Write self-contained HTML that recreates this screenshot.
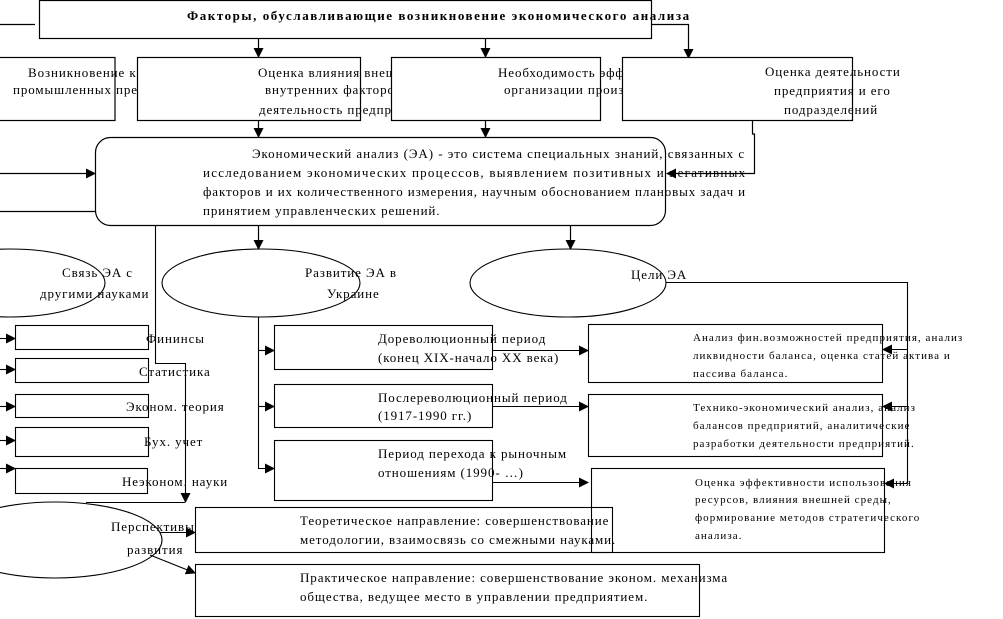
<!DOCTYPE html>
<html><head><meta charset="utf-8"><style>
html,body{margin:0;padding:0;background:#fff;width:1003px;height:619px;overflow:hidden}
svg text{font-family:"Liberation Serif","DejaVu Serif",serif;font-size:13px;fill:#000;letter-spacing:0.9px}
.s text{font-size:11px;letter-spacing:1.05px}
</style></head><body>
<svg width="1003" height="619" viewBox="0 0 1003 619" xmlns="http://www.w3.org/2000/svg">
<defs><marker id="a" markerWidth="10" markerHeight="10" refX="9" refY="5" orient="auto" markerUnits="userSpaceOnUse"><path d="M0,0 L10,5 L0,10 z" fill="#000"/></marker></defs>
<g stroke="#000" stroke-width="1.2" fill="none">
<rect x="39.5" y="0.5" width="612" height="38" fill="#fff"/>
<line x1="0" y1="24.5" x2="35" y2="24.5"/>
<line x1="258.5" y1="38" x2="258.5" y2="57" marker-end="url(#a)"/>
<line x1="485.5" y1="38" x2="485.5" y2="57" marker-end="url(#a)"/>
<polyline points="651,24.5 688.5,24.5 688.5,58" marker-end="url(#a)"/>
</g>
<text x="187" y="20" font-weight="bold" textLength="503" lengthAdjust="spacing">Факторы, обуславливающие возникновение экономического анализа</text>

<rect x="-2" y="57.5" width="117" height="63" fill="#fff" stroke="#000" stroke-width="1.2"/>
<text x="28" y="77">Возникновение кризиса</text><text x="13" y="94">промышленных предприятий</text>
<rect x="137.5" y="57.5" width="223" height="63" fill="#fff" stroke="#000" stroke-width="1.2"/>
<text x="258" y="77">Оценка влияния внешних и</text><text x="265" y="94">внутренних факторов на</text><text x="259" y="114">деятельность предприятия</text>
<rect x="391.5" y="57.5" width="209" height="63" fill="#fff" stroke="#000" stroke-width="1.2"/>
<text x="498" y="77">Необходимость эффективной</text><text x="504" y="94">организации производства</text>
<rect x="622.5" y="57.5" width="230" height="63" fill="#fff" stroke="#000" stroke-width="1.2"/>
<text x="765" y="76">Оценка деятельности</text><text x="774" y="95">предприятия и его</text><text x="784" y="114">подразделений</text>

<g stroke="#000" stroke-width="1.2" fill="none">
<line x1="258.5" y1="120" x2="258.5" y2="137" marker-end="url(#a)"/>
<line x1="485.5" y1="120" x2="485.5" y2="137" marker-end="url(#a)"/>
<polyline points="752.5,120 752.5,134 754.5,134 754.5,173.5 667,173.5" marker-end="url(#a)"/>
<rect x="95.5" y="137.5" width="570" height="88" rx="15" fill="#fff"/>
<line x1="0" y1="173.5" x2="95" y2="173.5" marker-end="url(#a)"/>
<line x1="0" y1="211.5" x2="95" y2="211.5"/>
<line x1="258.5" y1="225" x2="258.5" y2="249" marker-end="url(#a)"/>
<line x1="570.5" y1="225" x2="570.5" y2="249" marker-end="url(#a)"/>
</g>
<text x="252" y="158" textLength="493" lengthAdjust="spacing">Экономический анализ (ЭА) - это система специальных знаний, связанных с</text>
<text x="203" y="177" textLength="543" lengthAdjust="spacing">исследованием экономических процессов, выявлением позитивных и негативных</text>
<text x="203" y="196" textLength="543" lengthAdjust="spacing">факторов и их количественного измерения, научным обоснованием плановых задач и</text>
<text x="203" y="215">принятием управленческих решений.</text>

<g stroke="#000" stroke-width="1.1" fill="none">
<ellipse cx="10" cy="283" rx="95" ry="34"/>
<ellipse cx="261" cy="283" rx="99" ry="34"/>
<ellipse cx="568" cy="283" rx="98" ry="34"/>
<polyline points="155.5,225 155.5,363.5 185.5,363.5 185.5,502" marker-end="url(#a)"/>
<line x1="86" y1="502.5" x2="185" y2="502.5"/>
<polyline points="666,282.5 907.5,282.5 907.5,483.5"/>
<line x1="907" y1="349.5" x2="883" y2="349.5" marker-end="url(#a)"/>
<line x1="907" y1="406.5" x2="883" y2="406.5" marker-end="url(#a)"/>
<line x1="907" y1="483.5" x2="885" y2="483.5" marker-end="url(#a)"/>
<rect x="15.5" y="325.5" width="133" height="24"/>
<rect x="15.5" y="358.5" width="133" height="24"/>
<rect x="15.5" y="394.5" width="133" height="23"/>
<rect x="15.5" y="427.5" width="133" height="29"/>
<rect x="15.5" y="468.5" width="132" height="25"/>
<line x1="0" y1="338.5" x2="15" y2="338.5" marker-end="url(#a)"/>
<line x1="0" y1="369.5" x2="15" y2="369.5" marker-end="url(#a)"/>
<line x1="0" y1="406.5" x2="15" y2="406.5" marker-end="url(#a)"/>
<line x1="0" y1="440.5" x2="15" y2="440.5" marker-end="url(#a)"/>
<line x1="0" y1="468.5" x2="15" y2="468.5" marker-end="url(#a)"/>
<polyline points="258.5,317 258.5,468.5 274,468.5" marker-end="url(#a)"/>
<line x1="258" y1="350.5" x2="274" y2="350.5" marker-end="url(#a)"/>
<line x1="258" y1="406.5" x2="274" y2="406.5" marker-end="url(#a)"/>
<rect x="274.5" y="325.5" width="218" height="44"/>
<rect x="274.5" y="384.5" width="218" height="43"/>
<rect x="274.5" y="440.5" width="218" height="60"/>
<line x1="492" y1="350.5" x2="588" y2="350.5" marker-end="url(#a)"/>
<line x1="492" y1="406.5" x2="588" y2="406.5" marker-end="url(#a)"/>
<line x1="492" y1="482.5" x2="588" y2="482.5" marker-end="url(#a)"/>
<rect x="588.5" y="324.5" width="294" height="58"/>
<rect x="588.5" y="394.5" width="294" height="62"/>
<rect x="591.5" y="468.5" width="293" height="84"/>
<ellipse cx="55" cy="540" rx="107" ry="38"/>
<rect x="195.5" y="507.5" width="417" height="45"/>
<rect x="195.5" y="564.5" width="504" height="52"/>
<line x1="160" y1="532.5" x2="195" y2="532.5" marker-end="url(#a)"/>
<line x1="150" y1="555" x2="195" y2="573" marker-end="url(#a)"/>
</g>
<text x="62" y="277">Связь ЭА с</text><text x="40" y="298">другими науками</text>
<text x="305" y="277">Развитие ЭА в</text><text x="327" y="298">Украине</text>
<text x="631" y="279">Цели ЭА</text>
<text x="146" y="343">Фининсы</text><text x="139" y="376">Статистика</text><text x="126" y="411">Эконом. теория</text><text x="144" y="446">Бух. учет</text><text x="122" y="486">Неэконом. науки</text>
<text x="378" y="343">Дореволюционный период</text><text x="378" y="362">(конец XIX-начало XX века)</text>
<text x="378" y="402">Послереволюционный период</text><text x="378" y="420">(1917-1990 гг.)</text>
<text x="378" y="458">Период перехода к рыночным</text><text x="378" y="477">отношениям (1990- …)</text>
<g class="s">
<text x="693" y="341">Анализ фин.возможностей предприятия, анализ</text><text x="693" y="359">ликвидности баланса, оценка статей актива и</text><text x="693" y="377">пассива баланса.</text>
<text x="693" y="411">Технико-экономический анализ, анализ</text><text x="693" y="429">балансов предприятий, аналитические</text><text x="693" y="447">разработки деятельности предприятий.</text>
<text x="695" y="486">Оценка эффективности использования</text><text x="695" y="503">ресурсов, влияния внешней среды,</text><text x="695" y="521">формирование методов стратегического</text><text x="695" y="539">анализа.</text>
</g>
<text x="111" y="531">Перспективы</text><text x="127" y="554">развития</text>
<text x="300" y="525">Теоретическое направление: совершенствование</text><text x="300" y="544">методологии, взаимосвязь со смежными науками.</text>
<text x="300" y="582">Практическое направление: совершенствование эконом. механизма</text><text x="300" y="601">общества, ведущее место в управлении предприятием.</text>
</svg>
</body></html>
